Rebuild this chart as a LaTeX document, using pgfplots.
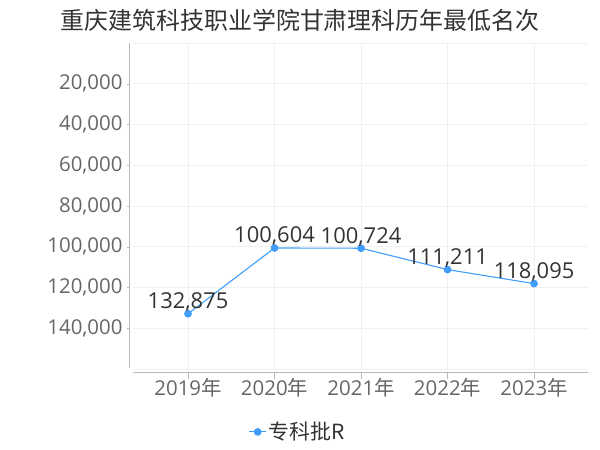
\documentclass[border=0pt]{standalone}
\usepackage{fontspec}
\setmainfont{Open Sans}
\newfontfamily\cjk{Noto Sans CJK SC}
\usepackage{pgfplots}
\pgfplotsset{compat=1.18}
\definecolor{cLine}{RGB}{64,158,250}
\definecolor{cTick}{RGB}{102,102,102}
\definecolor{cText}{RGB}{51,51,51}
\definecolor{cGrid}{RGB}{240,240,240}
\definecolor{cAxis}{RGB}{185,185,185}

\begin{document}
\begin{tikzpicture}[x=1bp,y=1bp]
\path[use as bounding box] (0,0) rectangle (600,450);
\node[anchor=center,font=\cjk\fontsize{24}{26}\selectfont,text=cText] at (300,430) {重庆建筑科技职业学院甘肃理科历年最低名次};
\begin{axis}[
  at={(133bp,81bp)}, anchor=south west,
  scale only axis, width=455bp, height=326bp,
  xmin=-0.636, xmax=4.624,
  ymin=0, ymax=160000, y dir=reverse,
  xtick={0,1,2,3,4},
  xticklabels={2019{\cjk 年},2020{\cjk 年},2021{\cjk 年},2022{\cjk 年},2023{\cjk 年}},
  ytick={0,20000,40000,60000,80000,100000,120000,140000,160000},
  yticklabels={{},{20,000},{40,000},{60,000},{80,000},{100,000},{120,000},{140,000},{}},
  scaled y ticks=false,
  grid=major,
  major grid style={draw=cGrid, line width=0.6bp},
  axis line style={draw=none},
  major tick length=0pt,
  tick label style={font=\fontsize{20.5}{22}\selectfont, text=cTick},
  xticklabel style={yshift=-6bp},
  yticklabel style={xshift=-7bp},
  legend style={at={(0.362,-0.193)}, anchor=center, draw=none, fill=none,
    font=\cjk\fontsize{21}{23}\selectfont, text=cText},
  legend cell align=left,
  clip=false,
]
\addplot[cLine, line width=1.1bp, mark=*, mark size=3.3bp,
  nodes near coords,
  point meta=explicit symbolic,
  every node near coord/.append style={font=\fontsize{22}{24}\selectfont, text=cText, anchor=base, inner sep=0pt, yshift=5bp}]
  coordinates {
    (0,132875) [{132,875}]
    (1,100604) [{100,604}]
    (2,100724) [{100,724}]
    (3,111211) [{111,211}]
    (4,118095) [{118,095}]
  };
\addlegendentry{专科批R}
\pgfplotsinvokeforeach{0,1,2,3,4}{
  \draw[cAxis] ([yshift=-3bp]axis cs:#1,160000) -- ++(0pt,-7bp);
}
\pgfplotsinvokeforeach{20000,40000,60000,80000,100000,120000,140000}{
  \draw[cAxis] ([xshift=-3.5bp]axis cs:-0.636,#1) -- ++(-3bp,0pt);
}
\end{axis}
\draw[cAxis, line width=0.8bp] (129.5,407) -- (129.5,82);
\draw[cAxis, line width=0.8bp] (133,78) -- (588,78);
\end{tikzpicture}
\end{document}
